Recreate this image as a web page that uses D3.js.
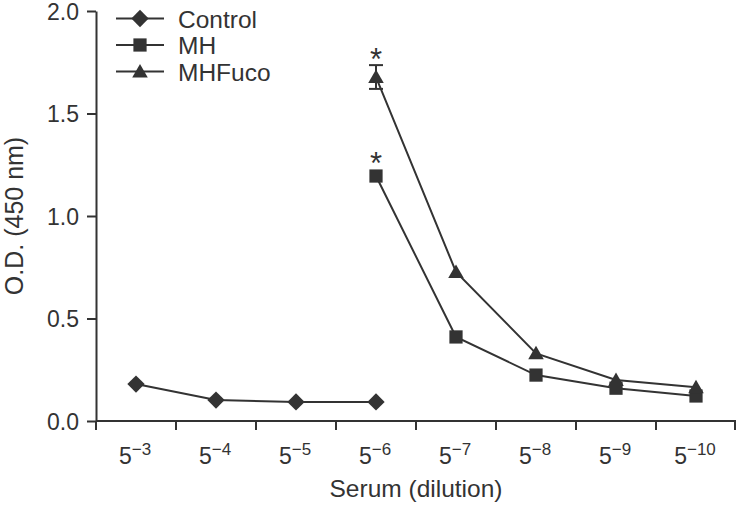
<!DOCTYPE html>
<html lang="en">
<head>
<meta charset="UTF-8">
<title>Serum dilution O.D.</title>
<script src="https://d3js.org/d3.v7.min.js"></script>
<style>
  body { margin: 0; background: #fff; }
  text { font-family: "Liberation Sans", Arial, sans-serif; fill: #333; }
</style>
</head>
<body>
<script>
// dilution exponents (5^-n)
var dilutions = [3, 4, 5, 6, 7, 8, 9, 10];
var controlValues = [0.18, 0.102, 0.093, 0.093, null, null, null, null];
var mhValues = [null, null, null, 1.195, 0.41, 0.224, 0.16, 0.122];
var fucoValues = [null, null, null, 1.678, 0.727, 0.33, 0.2, 0.165];
var fucoErr = [null, null, null, 0.058, null, null, null, null];
var starAt = [6]; // significant points
var yTicks = [0, 0.5, 1.0, 1.5, 2.0];
var seriesNames = ["Control", "MH", "MHFuco"];

var W = 736, H = 506;
var margin = { left: 96, right: 0, top: 11, bottom: 85 };
var ink = "#333";

var svg = d3.select("body").append("svg").attr("width", W).attr("height", H);

var x = d3.scaleBand().domain(dilutions).range([margin.left, W - margin.right]).padding(0);
var y = d3.scaleLinear().domain([0, 2]).range([H - margin.bottom, margin.top]);
var cx = d => x(d) + x.bandwidth() / 2;

// y axis
var yAxis = svg.append("g").attr("transform", "translate(" + margin.left + ",0)")
  .call(d3.axisLeft(y).tickValues(yTicks).tickFormat(d3.format(".1f")).tickSize(9).tickSizeOuter(0));
yAxis.select(".domain").attr("stroke", ink).attr("stroke-width", 2);
yAxis.selectAll(".tick line").attr("stroke", ink).attr("stroke-width", 2);
yAxis.selectAll(".tick text").attr("font-size", 23).attr("x", -17).attr("dy", "0.36em").attr("fill", ink)
  .attr("font-family", "'Liberation Sans', Arial, sans-serif");

// x axis (ticks between categories)
var base = y(0);
svg.append("line").attr("x1", margin.left).attr("x2", W).attr("y1", base).attr("y2", base)
  .attr("stroke", ink).attr("stroke-width", 2);
var bounds = dilutions.map(d => x(d)).concat([x.range()[1] - 1]);
svg.selectAll(".xtick").data(bounds).enter().append("line")
  .attr("x1", d => d).attr("x2", d => d).attr("y1", base).attr("y2", base + 9)
  .attr("stroke", ink).attr("stroke-width", 2);
var xl = svg.selectAll(".xlab").data(dilutions).enter().append("text")
  .attr("x", d => cx(d) - 1).attr("y", 464).attr("text-anchor", "middle").attr("font-size", 23);
xl.append("tspan").text("5");
xl.append("tspan").attr("dy", -9).attr("font-size", 17).text(d => "\u2212" + d);

// axis titles
svg.append("text").attr("x", (margin.left + W) / 2).attr("y", 497).attr("text-anchor", "middle")
  .attr("font-size", 24.5).text("Serum (dilution)");
svg.append("text").attr("transform", "translate(23," + ((margin.top + base) / 2) + ") rotate(-90)")
  .attr("text-anchor", "middle").attr("font-size", 25).text("O.D. (450 nm)");

// markers
var sym = {
  Control: d3.symbol().type(d3.symbolSquare).size(150),
  MH: d3.symbol().type(d3.symbolSquare).size(175),
  MHFuco: d3.symbol().type(d3.symbolTriangle).size(105)
};
var rot = { Control: " rotate(45)", MH: "", MHFuco: "" };
var seriesData = { Control: controlValues, MH: mhValues, MHFuco: fucoValues };

var line = d3.line().defined(d => d.v != null).x(d => cx(d.k)).y(d => y(d.v));

seriesNames.forEach(function (name) {
  var pts = dilutions.map((k, i) => ({ k: k, v: seriesData[name][i] }));
  svg.append("path").datum(pts).attr("d", line).attr("fill", "none")
    .attr("stroke", ink).attr("stroke-width", 2);
});

// error bars
dilutions.forEach(function (k, i) {
  if (fucoErr[i] == null) return;
  var v = fucoValues[i], e = fucoErr[i];
  var g = svg.append("g").attr("stroke", ink).attr("stroke-width", 2);
  g.append("line").attr("x1", cx(k)).attr("x2", cx(k)).attr("y1", y(v + e)).attr("y2", y(v - e));
  g.append("line").attr("x1", cx(k) - 7).attr("x2", cx(k) + 7).attr("y1", y(v + e)).attr("y2", y(v + e));
  g.append("line").attr("x1", cx(k) - 7).attr("x2", cx(k) + 7).attr("y1", y(v - e)).attr("y2", y(v - e));
});

seriesNames.forEach(function (name) {
  var pts = dilutions.map((k, i) => ({ k: k, v: seriesData[name][i] })).filter(d => d.v != null);
  svg.selectAll(".m-" + name).data(pts).enter().append("path")
    .attr("d", sym[name])
    .attr("transform", d => "translate(" + cx(d.k) + "," + (y(d.v) + (name === "MHFuco" ? 1.5 : 0)) + ")" + rot[name])
    .attr("fill", ink);
});

// asterisks
starAt.forEach(function (k) {
  var i = dilutions.indexOf(k);
  svg.append("text").attr("x", cx(k)).attr("y", y(mhValues[i]) - 2).attr("text-anchor", "middle")
    .attr("font-size", 31).text("*");
  svg.append("text").attr("x", cx(k)).attr("y", y(fucoValues[i] + fucoErr[i]) + 5).attr("text-anchor", "middle")
    .attr("font-size", 31).text("*");
});

// legend
var legend = svg.selectAll(".legend").data(seriesNames).enter().append("g")
  .attr("transform", (d, i) => "translate(116," + (18.5 + i * 26.5) + ")");
legend.append("line").attr("x1", 0).attr("x2", 48).attr("stroke", ink).attr("stroke-width", 2);
legend.append("path").attr("d", d => sym[d]())
  .attr("transform", d => "translate(24," + (d === "MHFuco" ? 1.5 : 0) + ")" + rot[d])
  .attr("fill", ink);
legend.append("text").attr("x", 62).attr("y", 9).attr("font-size", 24.5).text(d => d);
</script>
</body>
</html>
